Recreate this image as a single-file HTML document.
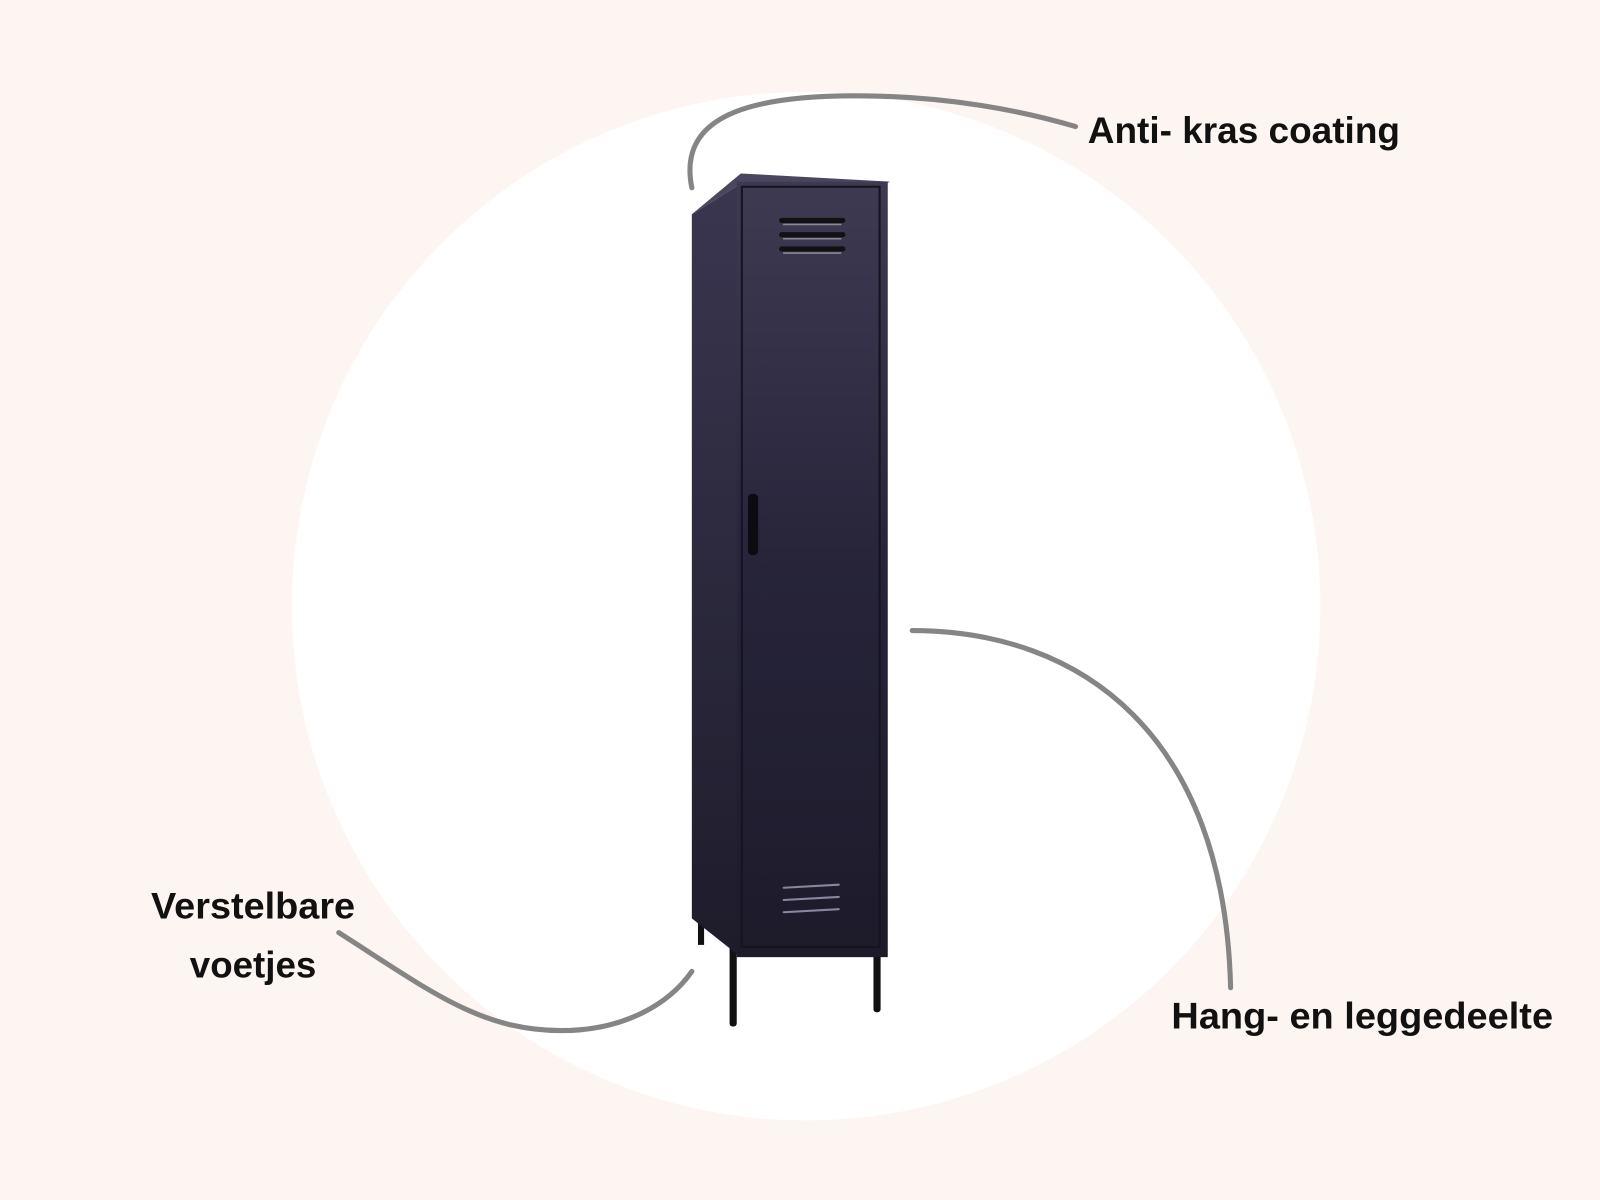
<!DOCTYPE html>
<html><head><style>
html,body{margin:0;padding:0;background:#fdf5f1;}
svg{display:block}
text{font-family:"Liberation Sans",sans-serif;font-weight:bold;fill:#111;}
</style></head><body>
<svg width="1600" height="1200" viewBox="0 0 1568 1176" xmlns="http://www.w3.org/2000/svg">
<rect width="1568" height="1176" fill="#fdf5f1"/>
<circle cx="790" cy="594" r="504" fill="#ffffff"/>
<defs>
<linearGradient id="fr" x1="0" y1="0" x2="0" y2="1">
<stop offset="0" stop-color="#3e3a52"/><stop offset="0.5" stop-color="#27243a"/><stop offset="1" stop-color="#1d1b2a"/></linearGradient>
<linearGradient id="sd" x1="0" y1="0" x2="0" y2="1">
<stop offset="0" stop-color="#3a3650"/><stop offset="1" stop-color="#1e1c2b"/></linearGradient>
</defs>
<rect x="684" y="870" width="6" height="56" fill="#111"/>
<rect x="715" y="920" width="7" height="86" rx="3" fill="#111"/>
<rect x="856" y="920" width="7" height="72" rx="3" fill="#111"/>
<polygon points="678,210 726,180 726,938 678,900" fill="url(#sd)"/>
<polygon points="678,210 726,170 872,178 862,184 726,180" fill="#4a4660"/>
<rect x="722" y="178" width="148" height="760" fill="url(#fr)"/>
<rect x="727" y="183" width="135" height="745" fill="none" stroke="#151320" stroke-width="2"/>
<g stroke="#111" stroke-width="5" stroke-linecap="round">
<line x1="766" y1="216" x2="826" y2="216"/><line x1="766" y1="230" x2="826" y2="230"/><line x1="766" y1="244" x2="826" y2="244"/>
</g>
<g stroke="#8a86a0" stroke-width="1.5" stroke-linecap="round">
<line x1="768" y1="220" x2="824" y2="220"/><line x1="768" y1="234" x2="824" y2="234"/><line x1="768" y1="248" x2="824" y2="248"/>
</g>
<g stroke="#8a86a0" stroke-width="2" stroke-linecap="round">
<line x1="768" y1="870" x2="822" y2="867"/><line x1="768" y1="882" x2="822" y2="879"/><line x1="768" y1="894" x2="822" y2="891"/>
</g>
<rect x="733" y="484" width="10" height="60" rx="4" fill="#0c0b12"/>
<g fill="none" stroke="#858585" stroke-width="5" stroke-linecap="round">
<path d="M678,184 C665,120 720,92 850,94 C930,95 1000,108 1054,124"/>
<path d="M894,618 C1060,618 1200,720 1206,968"/>
<path d="M332,914 C420,970 470,1010 550,1010 C610,1010 655,985 678,952"/>
</g>
<text x="1066" y="140" font-size="36" textLength="306" lengthAdjust="spacingAndGlyphs">Anti- kras coating</text>
<text x="1148" y="1008" font-size="36" textLength="374" lengthAdjust="spacingAndGlyphs">Hang- en leggedeelte</text>
<text x="148" y="900" font-size="36" textLength="200" lengthAdjust="spacingAndGlyphs">Verstelbare</text>
<text x="186" y="958" font-size="36" textLength="124" lengthAdjust="spacingAndGlyphs">voetjes</text>
</svg>
</body></html>
